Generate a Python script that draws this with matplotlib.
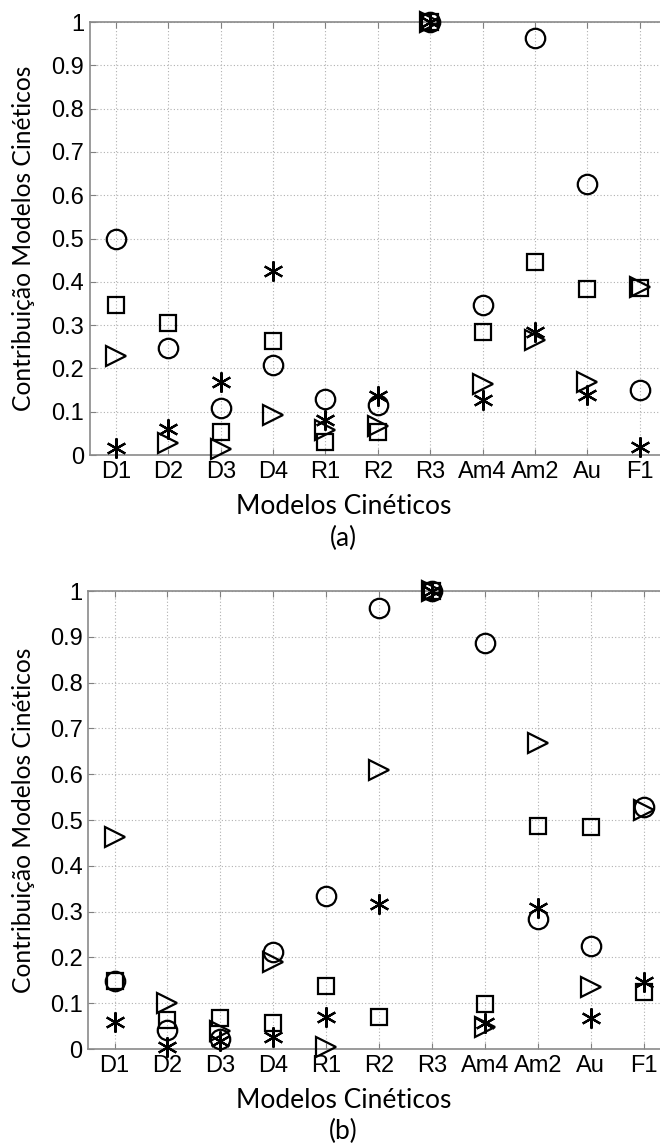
import numpy as np
import matplotlib.pyplot as plt

modelos = ["D1", "D2", "D3", "D4", "R1", "R2", "R3", "Am4", "Am2", "Au", "F1"]

# (a)
a_circulo = [0.500, 0.246, 0.109, 0.209, 0.129, 0.115, 1.0, 0.346, 0.964, 0.627, 0.150]
a_quadrado = [0.346, 0.304, 0.054, 0.264, 0.031, 0.052, 1.0, 0.285, 0.446, 0.383, 0.385]
a_triangulo = [0.229, 0.028, 0.013, 0.092, 0.058, 0.068, 1.0, 0.165, 0.266, 0.169, 0.388]
a_asterisco = [0.016, 0.059, 0.168, 0.426, 0.081, 0.137, 1.0, 0.127, 0.285, 0.139, 0.019]

# (b)
b_circulo = [0.148, 0.041, 0.021, 0.212, 0.334, 0.964, 1.0, 0.887, 0.283, 0.225, 0.528]
b_quadrado = [0.148, 0.064, 0.068, 0.056, 0.138, 0.071, 1.0, 0.098, 0.487, 0.484, 0.125]
b_triangulo = [0.464, 0.100, 0.040, 0.190, 0.005, 0.609, 1.0, 0.049, 0.669, 0.136, 0.522]
b_asterisco = [0.060, 0.005, 0.018, 0.026, 0.071, 0.317, 1.0, 0.056, 0.309, 0.067, 0.147]

asterisk = (6, 2, 0)
tick_font = "Liberation Sans"
label_font = "Lato"


def painel(ax, circ, quad, tri, ast, ylabel_x):
    x = np.arange(1, len(modelos) + 1)
    kw = dict(linestyle="none", color="black", markerfacecolor="none",
              markeredgewidth=1.6, clip_on=False, zorder=3)
    ax.plot(x, circ, marker="o", markersize=14, **kw)
    ax.plot(x, quad, marker="s", markersize=11.5, **kw)
    ax.plot(x, tri, marker=">", markersize=15, **kw)
    ax.plot(x, ast, marker=asterisk, markersize=14.5, **kw)

    ax.set_xlim(0.5, 11.5)
    ax.set_ylim(0, 1)
    ax.set_xticks(x)
    ax.set_xticklabels(modelos, fontfamily=tick_font, fontsize=17)
    ax.set_yticks(np.arange(0, 1.01, 0.1))
    ax.set_yticklabels(["0"] + [f"{v:.1f}" for v in np.arange(0.1, 0.95, 0.1)] + ["1"],
                       fontfamily=tick_font, fontsize=17)
    ax.grid(True, linestyle=(0, (1, 2)), color="#b0b0b0", linewidth=0.8)
    ax.set_axisbelow(True)
    ax.tick_params(direction="in", length=4, color="#808080", top=True, right=True)
    ax.tick_params(axis="x", pad=4)
    ax.tick_params(axis="y", pad=4)
    for s in ax.spines.values():
        s.set_color("#8a8a8a")
        s.set_linewidth(1.2)
    ax.set_ylabel("Contribuição Modelos Cinéticos", fontfamily=label_font,
                  fontsize=17.7)
    ax.yaxis.set_label_coords(ylabel_x, 0.5)


fig = plt.figure(figsize=(6.6, 11.47), dpi=100)
ax1 = fig.add_axes([0.136, 0.6033, 0.873, 0.3775])
ax2 = fig.add_axes([0.1335, 0.0854, 0.882, 0.3993])

painel(ax1, a_circulo, a_quadrado, a_triangulo, a_asterisco, -0.095)
painel(ax2, b_circulo, b_quadrado, b_triangulo, b_asterisco, -0.091)

for y, txt in [(507, "Modelos Cinéticos"), (538, "(a)"),
               (1100, "Modelos Cinéticos"), (1131, "(b)")]:
    fig.text(0.52, 1 - y / 1147, txt, ha="center", va="center",
             fontfamily=label_font, fontsize=19)

fig.savefig("out.png", dpi=100)
